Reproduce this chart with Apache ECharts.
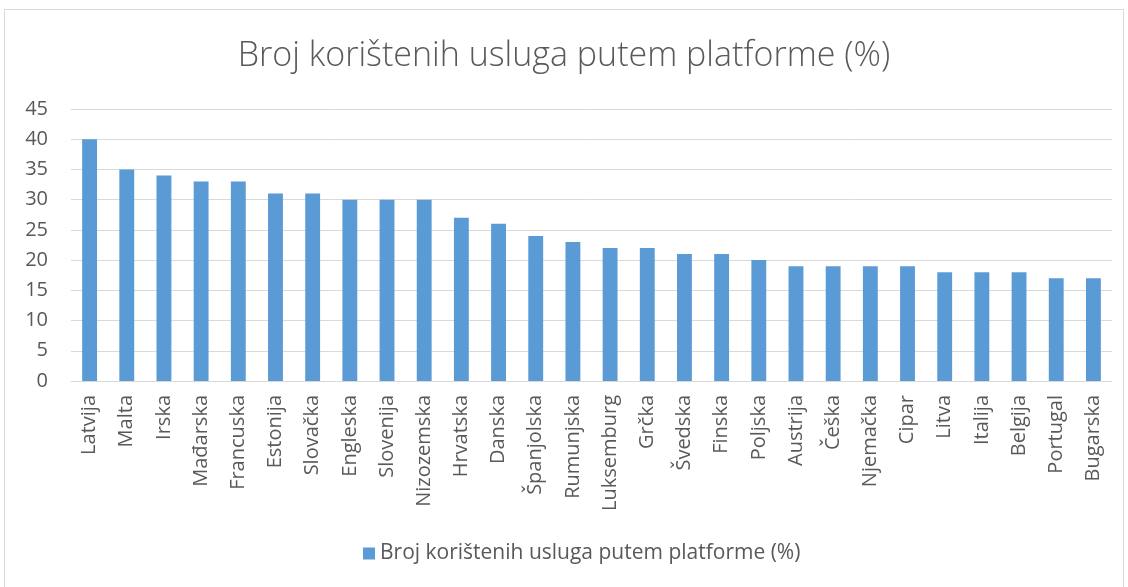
<!DOCTYPE html>
<html>
<head>
<meta charset="utf-8">
<script src="https://cdn.jsdelivr.net/npm/echarts@6/dist/echarts.min.js"></script>
<style>
  html, body { margin: 0; padding: 0; background: #fff; }
  #main { width: 1128px; height: 587px; }
</style>
</head>
<body>
<div id="main"></div>
<script>
// data
const titleText = 'Broj korištenih usluga putem platforme (%)';
const countries = ['Latvija', 'Malta', 'Irska', 'Mađarska', 'Francuska', 'Estonija', 'Slovačka',
  'Engleska', 'Slovenija', 'Nizozemska', 'Hrvatska', 'Danska', 'Španjolska', 'Rumunjska',
  'Luksemburg', 'Grčka', 'Švedska', 'Finska', 'Poljska', 'Austrija', 'Češka', 'Njemačka',
  'Cipar', 'Litva', 'Italija', 'Belgija', 'Portugal', 'Bugarska'];
const usage = [40, 35, 34, 33, 33, 31, 31, 30, 30, 30, 27, 26, 24, 23, 22, 22, 21, 21, 20,
  19, 19, 19, 19, 18, 18, 18, 17, 17];

const chart = echarts.init(document.getElementById('main'));
const grey = '#595959';
const font = '"Open Sans", sans-serif';

const option = {
  animation: false,
  backgroundColor: '#fff',
  graphic: [{
    type: 'rect',
    shape: { x: 4.5, y: 9.5, width: 1119, height: 590 },
    style: { fill: 'none', stroke: '#d9d9d9', lineWidth: 1 },
    silent: true
  }],
  title: {
    text: titleText,
    left: 'center',
    top: 34,
    textStyle: { color: grey, fontFamily: font, fontWeight: 300, fontSize: 34 }
  },
  legend: {
    bottom: 18,
    left: 358,
    itemWidth: 12,
    itemHeight: 12,
    itemGap: 6,
    icon: 'rect',
    textStyle: { color: grey, fontFamily: font, fontSize: 21 }
  },
  grid: { left: 71, right: 16, top: 109, bottom: 206 },
  xAxis: {
    type: 'category',
    data: countries,
    axisTick: { show: false },
    axisLine: { lineStyle: { color: '#d9d9d9', width: 1 } },
    axisLabel: {
      rotate: 90, interval: 0, margin: 14,
      color: grey, fontFamily: font, fontSize: 20
    }
  },
  yAxis: {
    type: 'value',
    min: 0, max: 45, interval: 5,
    axisLine: { show: false },
    axisTick: { show: false },
    splitLine: { lineStyle: { color: '#d9d9d9', width: 1 } },
    axisLabel: { color: grey, fontFamily: font, fontSize: 20, margin: 23 }
  },
  series: [{
    name: titleText,
    type: 'bar',
    data: usage,
    barWidth: '40%',
    itemStyle: { color: '#5b9bd5' }
  }]
};

chart.setOption(option);
</script>
</body>
</html>
